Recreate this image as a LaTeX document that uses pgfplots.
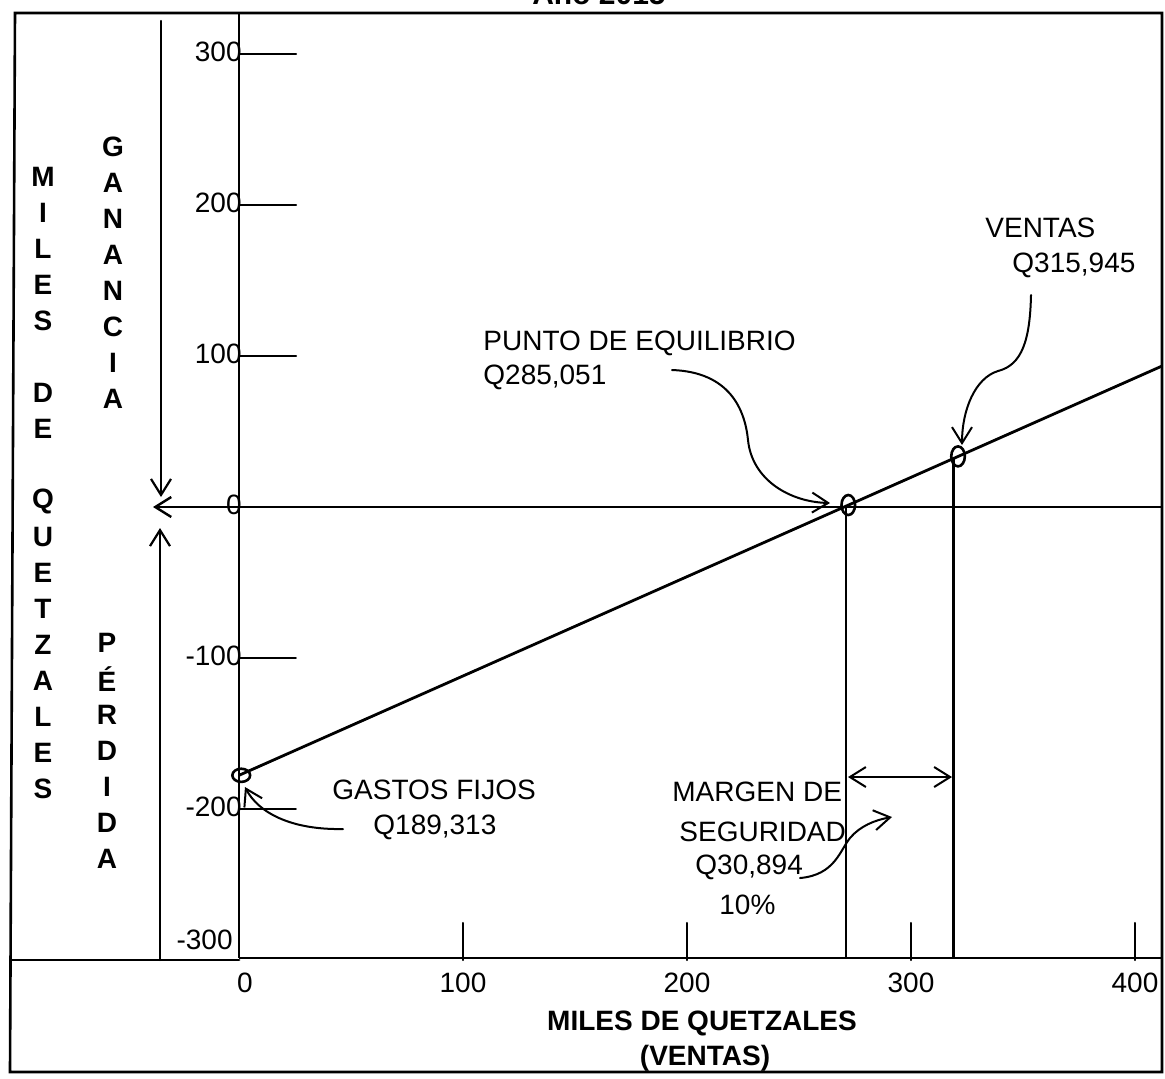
\documentclass[border=0pt]{standalone}
\usepackage{fontspec}
\setmainfont{Liberation Sans}
\usepackage{pgfplots}
\pgfplotsset{compat=1.18}
\usetikzlibrary{arrows.meta}

\tikzset{
  barb/.style={-{Straight Barb[length=8pt,width=10pt]}},
  lbl/.style={font=\fontsize{14}{16}\selectfont, inner sep=0pt},
  big/.style={font=\bfseries\fontsize{14}{16}\selectfont, inner sep=0pt},
}

\begin{document}
\begin{tikzpicture}
\useasboundingbox (0,0) rectangle (582.5pt,-539pt);
\clip (0,0) rectangle (582.5pt,-539pt);

% pixel grid: 1px = 0.5pt, origin top left
\begin{scope}[x=0.5pt,y=-0.5pt,line cap=round]
  \draw[line width=1.3pt] (15,13) -- (1162,13) -- (1162,1072) -- (10,1072) -- cycle;
  \draw[line width=1.4pt] (12,960) -- (239,960);
  \draw[line width=1.1pt,barb] (161,21) -- (161,497);
  \draw[line width=1.1pt,barb] (160,960) -- (160,528);
  \draw[line width=1.2pt,barb] (1162,507) -- (153,507);

  \node[font=\bfseries\fontsize{15}{18}\selectfont,anchor=base] at (599,4) {Año 2015};

  \foreach \ch [count=\i from 0] in {M,I,L,E,S,{},D,E,{},Q,U,E,T,Z,A,L,E,S}
    \node[big] at (43,177+36*\i) {\ch};
  \foreach \ch [count=\i from 0] in {G,A,N,A,N,C,I,A}
    \node[big] at (113,147+36*\i) {\ch};
  \foreach \ch [count=\i from 0] in {P,É,R,D,I,D,A}
    \node[big] at (107,643+36*\i) {\ch};
\end{scope}

\begin{axis}[
  anchor=south west, at={(119.5pt,-479pt)},
  x=1.12pt, y=0.755pt,
  xmin=0, xmax=412, ymin=-300, ymax=326,
  axis lines*=left,
  axis line style={line width=1.4pt},
  xtick={0,100,200,300,400},
  xticklabels={\hspace*{6pt}0,100,200,300,400},
  ytick={-200,-100,0,100,200,300},
  yticklabels={-200,-100,0,100,200,300},
  major tick length=0pt,
  ticklabel style={font=\fontsize{14}{16}\selectfont},
  xticklabel style={anchor=center, yshift=-12.5pt},
  yticklabel style={anchor=east, inner xsep=0pt, xshift=1.5pt},
  clip=false,
]
  % utilidad = ventas - costos
  \addplot[line width=1.4pt] coordinates {(0,-179) (412,92)};
  \addplot[line width=1.2pt] coordinates {(271,0) (271,-300)};
  \addplot[line width=1.2pt] coordinates {(319,31) (319,-300)};
  \addplot[only marks, mark=o, mark size=5pt,
    mark options={fill=white, line width=1.3pt, xscale=0.68}]
    coordinates {(272,0) (321,32.2)};
  \addplot[only marks, mark=o, mark size=3.3pt,
    mark options={fill=white, line width=1.3pt, xscale=1.35}]
    coordinates {(1,-179)};
\end{axis}

\begin{scope}[x=0.5pt,y=-0.5pt,line cap=round]
  % ticks
  \foreach \tx in {463,687,911,1135}
    \draw[line width=1.1pt] (\tx,960) -- (\tx,923);
  \foreach \ty in {54,205,356}
    \draw[line width=1.1pt] (239,\ty) -- (296,\ty);
  \foreach \ty in {658,809}
    \draw[line width=0.8pt] (239,\ty) -- (296,\ty);
  \node[lbl,anchor=east] at (233,940) {-300};

  \node[lbl,anchor=west] at (332,790) {GASTOS FIJOS};
  \node[lbl,anchor=west] at (373,827) {Q189,313};
  \draw[line width=1pt,barb] (343,829) .. controls (290,830) and (258,812) .. (245,787);

  \node[lbl,anchor=west] at (483,343) {PUNTO DE EQUILIBRIO};
  \node[lbl,anchor=west] at (483,377) {Q285,051};
  \draw[line width=1pt,barb] (672,370) .. controls (730,372) and (745,410) .. (748,440)
    .. controls (752,480) and (790,502) .. (830,503);

  \node[lbl,anchor=west] at (985,228) {VENTAS};
  \node[lbl,anchor=west] at (1012,265) {Q315,945};
  \draw[line width=1pt,barb] (1031,295) .. controls (1030,340) and (1022,365) .. (998,371)
    .. controls (975,378) and (962,410) .. (962,445);

  \draw[line width=1pt,{Straight Barb[length=8pt,width=10pt]}-{Straight Barb[length=8pt,width=10pt]}]
    (848,777) -- (952,777);
  \node[lbl,anchor=west] at (672,792) {MARGEN DE};
  \node[lbl,anchor=west] at (679,832) {SEGURIDAD};
  \node[lbl,anchor=west] at (695,867) {Q30,894};
  \node[lbl,anchor=west] at (719,905) {10\%};
  \draw[line width=1pt,barb] (800,878) .. controls (835,875) and (840,850) .. (850,838)
    .. controls (860,826) and (875,820) .. (892,817);

  \node[big] at (702,1023) {MILES DE QUETZALES};
  \node[big] at (705,1058) {(VENTAS)};
\end{scope}
\end{tikzpicture}
\end{document}
